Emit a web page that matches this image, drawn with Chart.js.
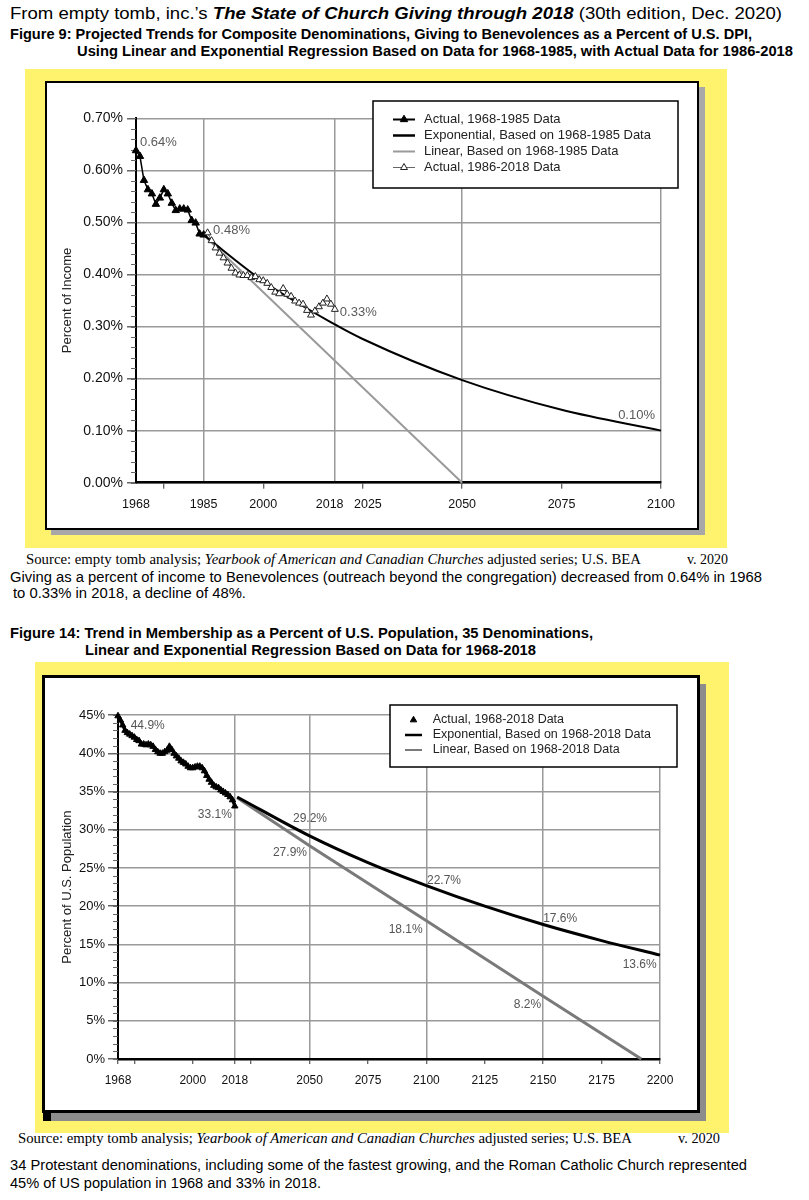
<!DOCTYPE html>
<html>
<head>
<meta charset="utf-8">
<title>The State of Church Giving through 2018</title>
<script src="https://cdn.jsdelivr.net/npm/chart.js@4.4.1/dist/chart.umd.min.js"></script>
<style>
    body { margin: 0; width: 809px; height: 1200px; position: relative; overflow: hidden; background: #fff; }
    .txt { position: absolute; white-space: nowrap; line-height: 1; color: #000; transform-origin: 0 0;
           font-family: "Liberation Sans Narrow", "Liberation Sans", Arial, sans-serif; }
    .serif { font-family: "Liberation Serif", "DejaVu Serif", serif; }
    .bold { font-weight: bold; }
    .block { position: absolute; box-sizing: border-box; }
    .yellow { background: #fff36e; }
    canvas { position: absolute; }
</style>
</head>
<body>

<!-- Page headings -->
<div class="txt" style="left:10px;top:5px;font-size:17px" data-w="772">From empty tomb, inc.’s <b><i>The State of Church Giving through 2018</i></b> (30th edition, Dec. 2020)</div>
<div class="txt bold" style="left:10px;top:27px;font-size:14.5px" data-w="742">Figure 9: Projected Trends for Composite Denominations, Giving to Benevolences as a Percent of U.S. DPI,</div>
<div class="txt bold" style="left:77px;top:44.4px;font-size:14.5px" data-w="716">Using Linear and Exponential Regression Based on Data for 1968-1985, with Actual Data for 1986-2018</div>

<!-- Figure 9 frame -->
<div class="block yellow" style="left:25px;top:69px;width:702px;height:479px"></div>
<div class="block" style="left:51px;top:87px;width:654px;height:448px;background:#a8a8a8"></div>
<div class="block" style="left:45px;top:81px;width:654px;height:449px;background:#fff;border:2px solid #000"></div>
<canvas id="fig9" width="650" height="445" style="left:47px;top:83px"></canvas>

<div class="txt serif" style="left:26px;top:552.6px;font-size:13.6px" data-w="615">Source: empty tomb analysis; <i>Yearbook of American and Canadian Churches</i> adjusted series; U.S. BEA</div>
<div class="txt serif" style="left:687px;top:552.6px;font-size:13.6px" data-w="41">v. 2020</div>
<div class="txt" style="left:10px;top:570px;font-size:14px" data-w="752">Giving as a percent of income to Benevolences (outreach beyond the congregation) decreased from 0.64% in 1968</div>
<div class="txt" style="left:13px;top:586px;font-size:14px" data-w="233">to 0.33% in 2018, a decline of 48%.</div>

<div class="txt bold" style="left:10px;top:625.7px;font-size:14.5px" data-w="583">Figure 14: Trend in Membership as a Percent of U.S. Population, 35 Denominations,</div>
<div class="txt bold" style="left:85px;top:642.7px;font-size:14.5px" data-w="451">Linear and Exponential Regression Based on Data for 1968-2018</div>

<!-- Figure 14 frame -->
<div class="block yellow" style="left:35px;top:662px;width:694px;height:471px"></div>
<div class="block" style="left:51px;top:684px;width:655px;height:437px;background:#8c8c8c"></div>
<div class="block" style="left:43px;top:1113px;width:8px;height:8px;background:#000"></div>
<div class="block" style="left:42px;top:675px;width:658px;height:438px;background:#fff;border:3px solid #000"></div>
<canvas id="fig14" width="652" height="432" style="left:45px;top:678px"></canvas>

<div class="txt serif" style="left:18px;top:1131.6px;font-size:13.6px" data-w="614">Source: empty tomb analysis; <i>Yearbook of American and Canadian Churches</i> adjusted series; U.S. BEA</div>
<div class="txt serif" style="left:678px;top:1131.6px;font-size:13.6px" data-w="42">v. 2020</div>
<div class="txt" style="left:10px;top:1158px;font-size:14px" data-w="737">34 Protestant denominations, including some of the fastest growing, and the Roman Catholic Church represented</div>
<div class="txt" style="left:10px;top:1176px;font-size:14px" data-w="311">45% of US population in 1968 and 33% in 2018.</div>

<script>
// ============================================
// Figure 9 data (giving to benevolences, % of U.S. DPI)
// ============================================

const fig9EarlyYears = [1968, 1969, 1970, 1971, 1972, 1973, 1974, 1975, 1976,
    1977, 1978, 1979, 1980, 1981, 1982, 1983, 1984, 1985];
const fig9EarlyValues = [0.638, 0.627, 0.581, 0.563, 0.555, 0.535, 0.547, 0.563, 0.555,
    0.537, 0.523, 0.526, 0.526, 0.524, 0.504, 0.499, 0.478, 0.476];

const fig9LateYears = [1986, 1987, 1988, 1989, 1990, 1991, 1992, 1993, 1994, 1995, 1996,
    1997, 1998, 1999, 2000, 2001, 2002, 2003, 2004, 2005, 2006, 2007, 2008, 2009, 2010,
    2011, 2012, 2013, 2014, 2015, 2016, 2017, 2018];
const fig9LateValues = [0.480, 0.465, 0.451, 0.441, 0.432, 0.422, 0.412, 0.403, 0.399, 0.398, 0.398,
    0.394, 0.396, 0.390, 0.388, 0.383, 0.375, 0.366, 0.363, 0.373, 0.362, 0.358, 0.349, 0.345, 0.343,
    0.331, 0.322, 0.330, 0.338, 0.345, 0.353, 0.343, 0.333];

const fig9ExpYears = [1985, 2000, 2018, 2025, 2050, 2075, 2100];
const fig9ExpValues = [0.476, 0.387, 0.304, 0.276, 0.197, 0.140, 0.100];

const fig9LinYears = [1985, 2050];
const fig9LinValues = [0.476, 0.0];

const fig9XTicks = [1968, 1975, 1985, 2000, 2018, 2025, 2050, 2075, 2100];
const fig9XLabels = [1968, 1985, 2000, 2018, 2025, 2050, 2075, 2100];
const fig9XGrid = [1985, 2018, 2050, 2100];
const fig9XMarks = [1975, 2000, 2025, 2050, 2075, 2100];

const fig9NoteYears = [1968, 1985, 2018, 2100];
const fig9NoteValues = [0.638, 0.476, 0.333, 0.100];
const fig9NoteTexts = ['0.64%', '0.48%', '0.33%', '0.10%'];

// ============================================
// Figure 14 data (membership, % of U.S. population)
// ============================================

const fig14ActualYears = [1968, 1969, 1970, 1971, 1972, 1973, 1974, 1975, 1976, 1977,
    1978, 1979, 1980, 1981, 1982, 1983, 1984, 1985, 1986, 1987, 1988, 1989, 1990, 1991,
    1992, 1993, 1994, 1995, 1996, 1997, 1998, 1999, 2000, 2001, 2002, 2003, 2004, 2005,
    2006, 2007, 2008, 2009, 2010, 2011, 2012, 2013, 2014, 2015, 2016, 2017, 2018];
const fig14ActualValues = [44.9, 44.35, 43.7, 43.0, 42.7, 42.5, 42.3, 42.1, 41.8, 41.65,
    41.2, 41.2, 41.1, 41.2, 41.1, 40.9, 40.5, 40.2, 40.0, 40.0, 40.2, 40.4, 40.9, 40.5,
    40.0, 39.65, 39.35, 39.0, 38.8, 38.6, 38.3, 38.1, 38.1, 38.2, 38.3, 38.3, 38.1, 37.7,
    37.1, 36.6, 36.2, 35.8, 35.6, 35.5, 35.2, 35.0, 34.8, 34.6, 34.3, 33.9, 33.1];

const fig14ExpYears = [2019, 2050, 2075, 2100, 2125, 2150, 2175, 2200];
const fig14ExpValues = [34.3, 29.2, 25.7, 22.7, 20.0, 17.6, 15.5, 13.6];

const fig14LinYears = [2019, 2050, 2100, 2150, 2192];
const fig14LinValues = [34.2, 27.9, 18.1, 8.2, 0.0];

const fig14XTicks = [1968, 1975, 2000, 2018, 2025, 2050, 2075, 2100, 2125, 2150, 2175, 2200];
const fig14XLabels = [1968, 2000, 2018, 2050, 2075, 2100, 2125, 2150, 2175, 2200];
const fig14XGrid = [2018, 2050, 2100, 2150, 2200];

const fig14NoteYears = [1968, 2018, 2050, 2050, 2100, 2100, 2150, 2150, 2200];
const fig14NoteValues = [44.9, 33.1, 29.2, 27.9, 22.7, 18.1, 17.6, 8.2, 13.6];
const fig14NoteTexts = ['44.9%', '33.1%', '29.2%', '27.9%', '22.7%', '18.1%', '17.6%', '8.2%', '13.6%'];

// ============================================
// Helpers
// ============================================

Chart.defaults.font.family = '"Liberation Sans", Arial, sans-serif';
Chart.defaults.color = '#111';

// Pair up x and y arrays into {x, y} points
function pairs(xs, ys) {
    return xs.map((x, i) => ({ x: x, y: ys[i] }));
}

// Same triangle shape Chart.js uses for pointStyle 'triangle'
function drawTriangle(ctx, x, y, r, fill, stroke, lw) {
    ctx.beginPath();
    for (let k = 0; k < 3; k++) {
        const a = k * 2 * Math.PI / 3;
        const px = x + Math.sin(a) * r;
        const py = y - Math.cos(a) * r;
        if (k === 0) ctx.moveTo(px, py); else ctx.lineTo(px, py);
    }
    ctx.closePath();
    ctx.fillStyle = fill;
    ctx.fill();
    ctx.lineWidth = lw;
    ctx.strokeStyle = stroke;
    ctx.stroke();
}

// Legend drawn as a framed box inside the plot
const boxLegend = {
    id: 'boxLegend',
    afterDraw(chart, args, opts) {
        const ctx = chart.ctx;
        const [bx, by, bw, bh] = opts.box;
        ctx.save();
        ctx.fillStyle = '#fff';
        ctx.fillRect(bx, by, bw, bh);
        ctx.strokeStyle = '#000';
        ctx.lineWidth = opts.borderWidth;
        ctx.strokeRect(bx, by, bw, bh);

        opts.rows.forEach((row, i) => {
            const ds = chart.data.datasets[row.dataset];
            const ry = opts.firstRow + i * opts.rowGap;
            const midX = (opts.lineX[0] + opts.lineX[1]) / 2;
            if (row.line) {
                ctx.beginPath();
                ctx.moveTo(opts.lineX[0], ry);
                ctx.lineTo(opts.lineX[1], ry);
                ctx.strokeStyle = ds.borderColor;
                ctx.lineWidth = row.lineWidth || ds.borderWidth;
                ctx.stroke();
            }
            if (row.marker) {
                drawTriangle(ctx, midX, ry, ds.pointRadius, ds.pointBackgroundColor, ds.pointBorderColor, ds.pointBorderWidth);
            }
            ctx.font = opts.font;
            ctx.fillStyle = '#222';
            ctx.textAlign = 'left';
            ctx.textBaseline = 'middle';
            ctx.fillText(ds.label, opts.textX, ry);
        });
        ctx.restore();
    }
};

// Value notes next to chosen points
const pointNotes = {
    id: 'pointNotes',
    afterDatasetsDraw(chart, args, opts) {
        const { ctx, scales: { x, y } } = chart;
        ctx.save();
        ctx.font = opts.font;
        ctx.fillStyle = opts.color;
        ctx.textBaseline = 'middle';
        opts.texts.forEach((text, i) => {
            const off = opts.offsets[i];
            ctx.textAlign = off[2];
            ctx.fillText(text, x.getPixelForValue(opts.years[i]) + off[0], y.getPixelForValue(opts.values[i]) + off[1]);
        });
        ctx.restore();
    }
};

// Short minor tick marks on the left of the y axis
const minorTicks = {
    id: 'minorTicks',
    beforeDatasetsDraw(chart, args, opts) {
        const { ctx, chartArea, scales: { y } } = chart;
        ctx.save();
        ctx.strokeStyle = opts.color;
        ctx.lineWidth = 1;
        for (let v = y.min; v <= y.max + 1e-9; v += opts.step) {
            const py = Math.round(y.getPixelForValue(v)) + 0.5;
            ctx.beginPath();
            ctx.moveTo(chartArea.left - opts.length, py);
            ctx.lineTo(chartArea.left, py);
            ctx.stroke();
        }
        ctx.restore();
    }
};

// ============================================
// Figure 9 chart
// ============================================

new Chart(document.getElementById('fig9'), {
    type: 'line',
    data: {
        datasets: [
            {
                label: 'Actual, 1968-1985 Data',
                data: pairs(fig9EarlyYears, fig9EarlyValues),
                borderColor: '#000', borderWidth: 1.5,
                pointStyle: 'triangle', pointRadius: 4.3,
                pointBackgroundColor: '#000', pointBorderColor: '#000', pointBorderWidth: 1,
                clip: false, order: 1
            },
            {
                label: 'Exponential, Based on 1968-1985 Data',
                data: pairs(fig9ExpYears, fig9ExpValues),
                borderColor: '#000', borderWidth: 2, pointRadius: 0,
                cubicInterpolationMode: 'monotone', clip: false, order: 3
            },
            {
                label: 'Linear, Based on 1968-1985 Data',
                data: pairs(fig9LinYears, fig9LinValues),
                borderColor: '#9a9a9a', borderWidth: 2, pointRadius: 0,
                clip: false, order: 4
            },
            {
                label: 'Actual, 1986-2018 Data',
                data: pairs(fig9LateYears, fig9LateValues),
                borderColor: '#666', borderWidth: 1,
                pointStyle: 'triangle', pointRadius: 4,
                pointBackgroundColor: '#fff', pointBorderColor: '#222', pointBorderWidth: 1,
                clip: false, order: 0
            }
        ]
    },
    options: {
        responsive: false,
        animation: false,
        devicePixelRatio: 1,
        layout: { padding: { top: 35.3, right: 36, bottom: 0, left: 0 } },
        plugins: {
            legend: { display: false },
            tooltip: { enabled: false },
            boxLegend: {
                box: [326, 18, 305, 87], borderWidth: 1.5,
                firstRow: 36.5, rowGap: 16, lineX: [346, 368], textX: 377,
                font: '13px "Liberation Sans", Arial, sans-serif',
                rows: [
                    { dataset: 0, line: true, marker: true, lineWidth: 2 },
                    { dataset: 1, line: true, lineWidth: 2.5 },
                    { dataset: 2, line: true },
                    { dataset: 3, line: true, marker: true }
                ]
            },
            pointNotes: {
                years: fig9NoteYears, values: fig9NoteValues, texts: fig9NoteTexts,
                offsets: [[4, -8, 'left'], [9.5, -4.5, 'left'], [5, 3, 'left'], [-6, -15, 'right']],
                font: '13px "Liberation Sans", Arial, sans-serif', color: '#5a5a5a'
            },
            minorTicks: { step: 0.02, length: 5, color: '#666' }
        },
        scales: {
            x: {
                type: 'linear', min: 1968, max: 2100,
                afterBuildTicks: scale => { scale.ticks = fig9XTicks.map(value => ({ value })); },
                afterFit: scale => { scale.height = 45.3; },
                ticks: {
                    autoSkip: false, maxRotation: 0, padding: 8,
                    font: { size: 12.5 }, color: '#111',
                    // 2018 and 2025 sit close together, so nudge them apart with spaces
                    callback: value => {
                        if (!fig9XLabels.includes(value)) return '';
                        if (value === 2018) return '2018   ';
                        if (value === 2025) return '   2025';
                        return String(value);
                    }
                },
                grid: {
                    lineWidth: 1.5, tickLength: 6, tickWidth: 1,
                    color: ctx => fig9XGrid.includes(ctx.tick && ctx.tick.value) ? '#999' : 'rgba(0,0,0,0)',
                    tickColor: ctx => fig9XMarks.includes(ctx.tick && ctx.tick.value) ? '#333' : 'rgba(0,0,0,0)'
                },
                border: { color: '#000', width: 2.5 }
            },
            y: {
                min: 0, max: 0.7,
                afterFit: scale => { scale.width = 89; },
                ticks: {
                    stepSize: 0.1, padding: 4, font: { size: 14 }, color: '#111',
                    callback: value => value.toFixed(2) + '%'
                },
                grid: { color: '#999', lineWidth: 1.5, tickLength: 9, tickColor: '#666' },
                border: { color: '#000', width: 2 },
                title: {
                    display: true, text: 'Percent of Income', color: '#222',
                    font: { size: 13 }, padding: { top: 13, bottom: 0 }
                }
            }
        }
    },
    plugins: [boxLegend, pointNotes, minorTicks]
});

// ============================================
// Figure 14 chart
// ============================================

new Chart(document.getElementById('fig14'), {
    type: 'line',
    data: {
        datasets: [
            {
                label: 'Actual, 1968-2018 Data',
                data: pairs(fig14ActualYears, fig14ActualValues),
                borderColor: '#000', borderWidth: 3,
                pointStyle: 'triangle', pointRadius: 3.7,
                pointBackgroundColor: '#000', pointBorderColor: '#000', pointBorderWidth: 1,
                clip: false, order: 0
            },
            {
                label: 'Exponential, Based on 1968-2018 Data',
                data: pairs(fig14ExpYears, fig14ExpValues),
                borderColor: '#000', borderWidth: 3, pointRadius: 0,
                cubicInterpolationMode: 'monotone', clip: false, order: 1
            },
            {
                label: 'Linear, Based on 1968-2018 Data',
                data: pairs(fig14LinYears, fig14LinValues),
                borderColor: '#7a7a7a', borderWidth: 3, pointRadius: 0,
                clip: false, order: 2
            }
        ]
    },
    options: {
        responsive: false,
        animation: false,
        devicePixelRatio: 1,
        layout: { padding: { top: 37.2, right: 37, bottom: 0, left: 0 } },
        plugins: {
            legend: { display: false },
            tooltip: { enabled: false },
            boxLegend: {
                box: [345, 27, 287, 62], borderWidth: 1.5,
                firstRow: 42, rowGap: 15, lineX: [360, 377], textX: 387.7,
                font: '12.5px "Liberation Sans", Arial, sans-serif',
                rows: [
                    { dataset: 0, marker: true },
                    { dataset: 1, line: true, lineWidth: 2.5 },
                    { dataset: 2, line: true, lineWidth: 2 }
                ]
            },
            pointNotes: {
                years: fig14NoteYears, values: fig14NoteValues, texts: fig14NoteTexts,
                offsets: [[12.7, 10, 'left'], [-3, 9, 'right'], [0.4, -17, 'center'], [-2.6, 7.3, 'right'],
                    [0.6, -4.8, 'left'], [-3.7, 9.3, 'right'], [0, -5.5, 'left'], [-2, 8.7, 'right'], [-3.3, 10, 'right']],
                font: '12px "Liberation Sans", Arial, sans-serif', color: '#555'
            },
            minorTicks: { step: 1, length: 5, color: '#666' }
        },
        scales: {
            x: {
                type: 'linear', min: 1968, max: 2200,
                afterBuildTicks: scale => { scale.ticks = fig14XTicks.map(value => ({ value })); },
                afterFit: scale => { scale.height = 51; },
                ticks: {
                    autoSkip: false, maxRotation: 0, padding: 9,
                    font: { size: 12 }, color: '#111',
                    callback: value => fig14XLabels.includes(value) ? String(value) : ''
                },
                grid: {
                    lineWidth: 1.5, tickLength: 5, tickWidth: 1, tickColor: '#333',
                    color: ctx => fig14XGrid.includes(ctx.tick && ctx.tick.value) ? '#999' : 'rgba(0,0,0,0)'
                },
                border: { color: '#000', width: 2.5 }
            },
            y: {
                min: 0, max: 45,
                afterFit: scale => { scale.width = 73; },
                ticks: {
                    stepSize: 5, padding: 3, font: { size: 13 }, color: '#111',
                    callback: value => value + '%'
                },
                grid: { color: '#999', lineWidth: 1.5, tickLength: 10, tickColor: '#666' },
                border: { color: '#000', width: 2 },
                title: {
                    display: true, text: 'Percent of U.S. Population', color: '#222',
                    font: { size: 13 }, padding: { top: 15, bottom: 0 }
                }
            }
        }
    },
    plugins: [boxLegend, pointNotes, minorTicks]
});

// ============================================
// Fit the narrow headline and note text to the widths in the original
// ============================================

document.querySelectorAll('[data-w]').forEach(el => {
    const natural = el.getBoundingClientRect().width;
    el.style.transform = 'scaleX(' + (parseFloat(el.dataset.w) / natural) + ')';
});
</script>
</body>
</html>
